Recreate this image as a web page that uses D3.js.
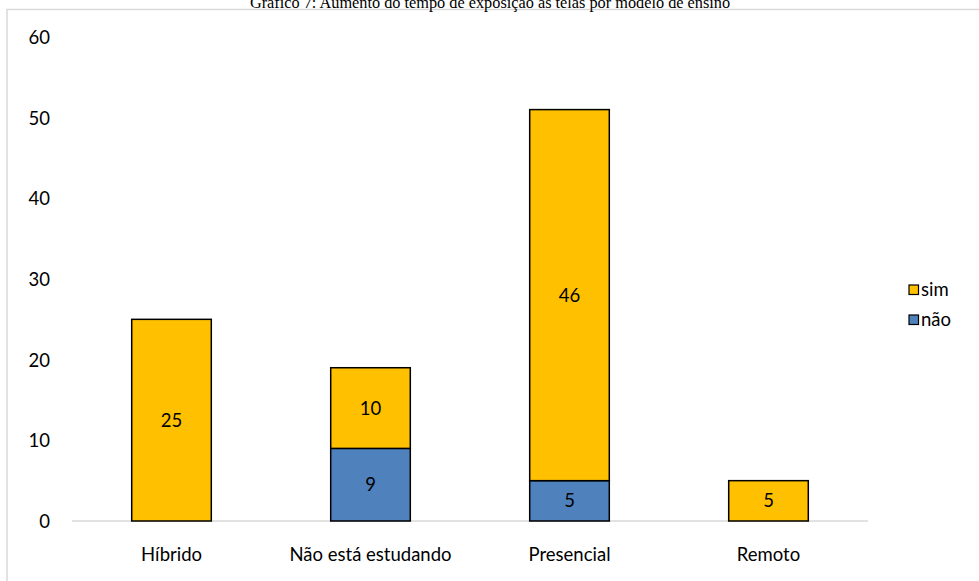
<!DOCTYPE html>
<html><head><meta charset="utf-8">
<script src="https://cdn.jsdelivr.net/npm/d3@7"></script>
<style>body{margin:0;background:#fff}svg{display:block}</style>
</head><body>
<script>
const categories = ["Híbrido", "Não está estudando", "Presencial", "Remoto"];
const seriesNames = ["não", "sim"];
const nao = [0, 9, 5, 0];
const sim = [25, 10, 46, 5];
const yTicks = [0, 10, 20, 30, 40, 50, 60];
const colors = {"sim": "#FFC000", "não": "#4F81BD"};
const title = "Gráfico 7: Aumento do tempo de exposição às telas por modelo de ensino";

const W = 979, H = 581;
const svg = d3.select("body").append("svg").attr("width", W).attr("height", H);
const font = "Lato, 'Open Sans', sans-serif";
const fs = 18.5;

// border
svg.append("path").attr("d", `M7,${H+2}V9.5H${W+2}`).attr("fill","none").attr("stroke","#d9d9d9").attr("stroke-width",1.5);

svg.append("text").attr("x", 490).attr("y", 8).attr("text-anchor","middle")
  .attr("font-family","'Liberation Serif', 'Times New Roman', serif").attr("font-size",16.3).text(title);

const x = d3.scaleBand().domain(categories).range([72, 868]).paddingInner(0.6).paddingOuter(0.3);
const y = d3.scaleLinear().domain([0, 60]).range([521, 37]);

const rows = categories.map((c,i)=>({cat:c, "não":nao[i], "sim":sim[i]}));
const stack = d3.stack().keys(seriesNames)(rows);

// baseline
svg.append("line").attr("x1",72).attr("x2",868).attr("y1",y(0)).attr("y2",y(0)).attr("stroke","#d9d9d9").attr("stroke-width",1.5);

// y axis labels
const yAxis = d3.axisLeft(y).tickValues(yTicks).tickSize(0).tickPadding(0);
const ga = svg.append("g").attr("transform","translate(50,0)").call(yAxis);
ga.select(".domain").remove();
ga.selectAll("text").attr("font-family",font).attr("font-size",fs).attr("fill","#000").attr("dy","0.35em");

const xAxis = d3.axisBottom(x).tickSize(0).tickPadding(0);
const gx = svg.append("g").attr("transform",`translate(0,555)`).call(xAxis);
gx.select(".domain").remove();
gx.selectAll("text").attr("font-family",font).attr("font-size",fs).attr("fill","#000").attr("y",0).attr("dy","0.35em");

stack.forEach(s=>{
  const g = svg.append("g");
  s.forEach((d,i)=>{
    if (d[1]-d[0] <= 0) return;
    const cat = categories[i];
    g.append("rect").attr("x",x(cat)).attr("width",x.bandwidth())
      .attr("y",y(d[1])).attr("height",y(d[0])-y(d[1]))
      .attr("fill",colors[s.key]).attr("stroke","#000").attr("stroke-width",1.5);
    g.append("text").attr("x",x(cat)+x.bandwidth()/2).attr("y",(y(d[0])+y(d[1]))/2)
      .attr("dy","0.35em").attr("text-anchor","middle").attr("font-family",font).attr("font-size",fs)
      .text(d[1]-d[0]);
  });
});

// legend
const legendItems = ["sim", "não"];
legendItems.forEach((k,i)=>{
  const ly = 290 + i*30;
  svg.append("rect").attr("x",909).attr("y",ly-5).attr("width",9.5).attr("height",9.5)
    .attr("fill",colors[k]).attr("stroke","#000").attr("stroke-width",1.2);
  svg.append("text").attr("x",921).attr("y",ly).attr("dy","0.35em").attr("font-family",font).attr("font-size",fs).text(k);
});
</script>
</body></html>
